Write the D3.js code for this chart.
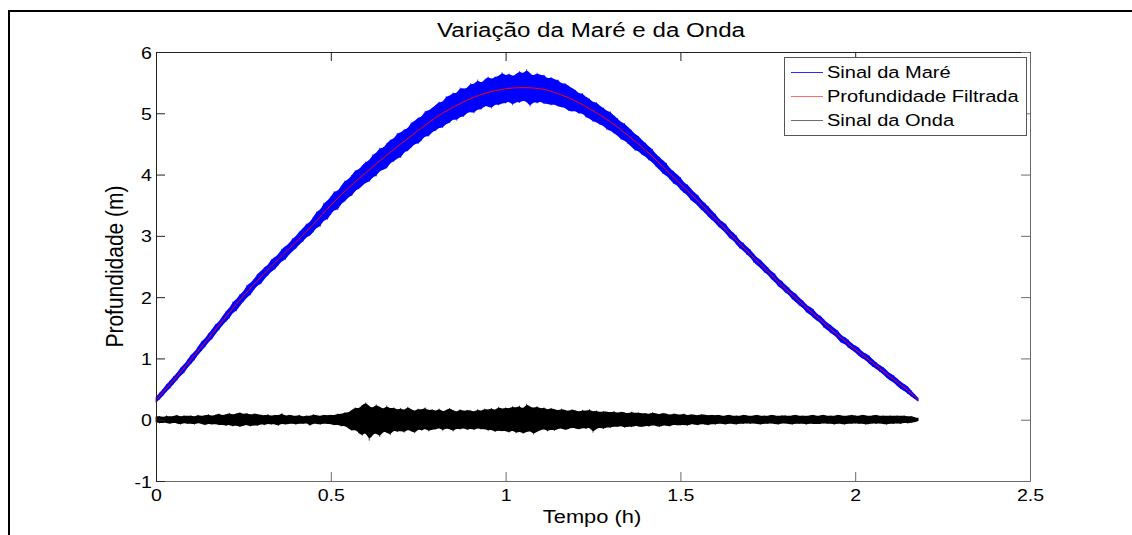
<!DOCTYPE html>
<html>
<head>
<meta charset="utf-8">
<script src="https://cdn.jsdelivr.net/npm/d3@7"></script>
<style>
  body { margin: 0; background: #fff; }
  svg { display: block; }
  text { font-family: "Liberation Sans", Arial, sans-serif; fill: #000; }
</style>
</head>
<body>
<svg id="chart" width="1132" height="535"></svg>
<script>
// ---- data -------------------------------------------------------------
// Records are summarised in bins of 0.01 h starting at t = 0 h:
// for each bin the highest and lowest sample of the signal (m).
const binStart = 0;      // h
const binWidth = 0.01;   // h

// Sinal da Maré (tide gauge pressure depth), bin maxima / minima
const tideHigh = [
  0.37,0.44,0.50,0.58,0.64,0.71,0.76,0.85,0.90,0.98,1.06,1.11,1.19,1.28,1.32,1.41,1.47,1.56,1.60,1.69,
  1.77,1.82,1.93,1.96,2.05,2.09,2.20,2.23,2.29,2.38,2.42,2.49,2.52,2.62,2.65,2.70,2.79,2.83,2.87,2.96,2.99,3.07,3.12,3.20,3.22,
  3.31,3.40,3.42,3.54,3.57,3.64,3.73,3.73,3.82,3.90,3.92,3.99,4.07,4.08,4.15,
  4.21,4.23,4.33,4.35,4.44,4.43,4.51,4.57,4.58,4.68,4.68,4.74,4.75,4.85,4.87,4.93,4.94,5.04,5.04,5.09,
  5.13,5.19,5.18,5.28,5.28,5.34,5.32,5.42,5.40,5.41,5.49,5.47,5.55,5.49,5.55,5.60,5.55,5.60,5.60,5.67,
  5.61,5.65,5.60,5.64,5.69,5.64,5.72,5.65,5.61,5.66,5.62,5.63,5.56,5.59,5.55,5.55,5.48,5.49,5.45,5.41,
  5.38,5.32,5.33,5.26,5.24,5.18,5.18,5.12,5.09,5.03,5.03,4.96,4.92,4.85,4.84,4.77,4.73,4.66,4.63,4.56,
  4.52,4.45,4.42,4.33,4.29,4.23,4.19,4.10,4.06,4.00,3.96,3.87,3.84,3.77,3.71,3.67,3.58,3.54,3.48,3.41,
  3.36,3.28,3.23,3.20,3.11,3.06,3.01,2.92,2.89,2.82,2.78,2.71,2.64,2.61,2.54,2.49,2.42,2.39,2.30,2.27,
  2.20,2.16,2.09,2.06,1.99,1.95,1.88,1.84,1.81,1.73,1.70,1.64,1.58,1.55,1.49,1.46,1.38,1.35,1.31,1.25,
  1.21,1.18,1.11,1.08,1.05,0.98,0.94,0.89,0.86,0.81,0.75,0.73,0.67,0.62,0.58,0.55,0.48,0.42,0.36
];
const tideLow = [
  0.28,0.33,0.39,0.46,0.51,0.58,0.64,0.72,0.76,0.85,0.91,0.97,1.06,1.12,1.18,1.27,1.31,1.40,1.46,1.54,
  1.60,1.65,1.75,1.77,1.86,1.92,2.00,2.03,2.12,2.19,2.21,2.30,2.35,2.42,2.45,2.52,2.59,2.61,2.69,2.75,2.79,2.86,2.90,2.98,3.00,
  3.06,3.14,3.15,3.26,3.26,3.35,3.43,3.42,3.53,3.56,3.63,3.65,3.74,3.76,3.82,
  3.87,3.88,3.96,3.97,4.06,4.08,4.10,4.19,4.21,4.27,4.27,4.37,4.38,4.44,4.50,4.50,4.56,4.63,4.62,4.70,
  4.71,4.77,4.76,4.83,4.84,4.91,4.88,4.95,4.94,5.01,5.02,5.00,5.07,5.06,5.12,5.11,5.08,5.15,5.13,5.17,
  5.16,5.20,5.13,5.19,5.17,5.21,5.19,5.11,5.19,5.16,5.20,5.15,5.16,5.13,5.15,5.11,5.10,5.09,5.04,5.03,
  5.04,4.99,5.00,4.93,4.92,4.86,4.86,4.81,4.80,4.73,4.72,4.67,4.64,4.57,4.56,4.50,4.46,4.39,4.39,4.32,
  4.30,4.23,4.20,4.13,4.08,4.01,3.98,3.92,3.85,3.83,3.75,3.70,3.66,3.58,3.54,3.49,3.42,3.38,3.31,3.26,
  3.21,3.14,3.10,3.04,2.96,2.93,2.86,2.79,2.76,2.69,2.65,2.56,2.52,2.47,2.40,2.37,2.29,2.25,2.17,2.14,
  2.07,2.04,1.96,1.92,1.86,1.83,1.75,1.72,1.66,1.62,1.58,1.50,1.47,1.41,1.38,1.32,1.25,1.24,1.17,1.14,
  1.10,1.04,1.00,0.97,0.91,0.86,0.83,0.78,0.74,0.68,0.64,0.61,0.55,0.50,0.47,0.42,0.38,0.34,0.30
];

// Sinal da Onda (wave signal after removing the tide), bin maxima / minima
const waveHigh = [
  .05,.06,.04,.07,.05,.06,.08,.05,.07,.06,  .07,.05,.08,.06,.07,.09,.06,.08,.10,.07,
  .09,.11,.08,.10,.12,.09,.11,.08,.10,.09,  .08,.07,.09,.06,.08,.07,.11,.06,.08,.07,
  .06,.08,.05,.07,.06,.09,.07,.06,.08,.07,  .08,.07,.10,.09,.12,.11,.16,.20,.18,.24,
  .28,.22,.19,.25,.21,.17,.23,.18,.20,.16,  .19,.15,.21,.17,.14,.18,.16,.20,.15,.17,
  .14,.18,.13,.16,.19,.15,.13,.17,.14,.16,  .15,.13,.17,.14,.18,.16,.19,.15,.21,.17,
  .20,.18,.22,.19,.23,.17,.26,.21,.19,.22,  .18,.20,.16,.19,.17,.15,.18,.16,.14,.17,
  .15,.13,.16,.14,.17,.13,.15,.12,.14,.13,  .12,.14,.11,.13,.12,.10,.13,.11,.12,.10,
  .11,.09,.12,.10,.09,.11,.10,.08,.10,.09,  .08,.10,.07,.09,.08,.07,.09,.08,.07,.08,
  .07,.08,.06,.07,.08,.06,.07,.06,.08,.07,  .06,.07,.08,.06,.07,.06,.08,.07,.06,.07,
  .07,.06,.07,.08,.06,.07,.06,.07,.08,.06,  .07,.08,.06,.07,.06,.08,.07,.06,.07,.08,
  .07,.06,.08,.07,.06,.07,.08,.06,.07,.06,  .07,.06,.07,.06,.07,.05,.06,.04,.03
];
const waveLow = [
  -.04,-.06,-.05,-.05,-.07,-.05,-.06,-.08,-.05,-.07,  -.06,-.08,-.05,-.07,-.09,-.06,-.08,-.07,-.09,-.08,
  -.10,-.08,-.11,-.09,-.12,-.10,-.08,-.11,-.09,-.10,  -.07,-.09,-.06,-.08,-.07,-.10,-.06,-.08,-.07,-.06,
  -.08,-.06,-.07,-.05,-.10,-.06,-.07,-.08,-.06,-.07,  -.07,-.09,-.08,-.11,-.10,-.14,-.18,-.16,-.22,-.26,
  -.20,-.34,-.24,-.22,-.28,-.19,-.21,-.25,-.17,-.20,  -.18,-.21,-.16,-.19,-.22,-.15,-.18,-.14,-.19,-.16,
  -.16,-.13,-.18,-.14,-.15,-.19,-.14,-.16,-.13,-.17,  -.14,-.17,-.13,-.16,-.15,-.18,-.16,-.20,-.17,-.19,
  -.18,-.21,-.17,-.22,-.19,-.23,-.20,-.18,-.24,-.19,  -.17,-.15,-.19,-.16,-.18,-.15,-.14,-.17,-.15,-.13,
  -.14,-.16,-.13,-.15,-.12,-.21,-.14,-.13,-.15,-.12,  -.13,-.11,-.12,-.10,-.13,-.11,-.12,-.10,-.11,-.12,
  -.10,-.11,-.09,-.10,-.12,-.09,-.10,-.11,-.08,-.09,  -.09,-.08,-.10,-.07,-.08,-.09,-.07,-.08,-.09,-.07,
  -.08,-.06,-.07,-.08,-.06,-.07,-.08,-.06,-.07,-.06,  -.07,-.06,-.07,-.08,-.06,-.07,-.06,-.07,-.08,-.06,
  -.06,-.07,-.08,-.06,-.07,-.06,-.08,-.06,-.07,-.07,  -.07,-.06,-.07,-.06,-.08,-.06,-.07,-.08,-.06,-.07,
  -.06,-.07,-.06,-.08,-.07,-.06,-.07,-.06,-.07,-.08,  -.06,-.07,-.06,-.07,-.05,-.06,-.05,-.04,-.02
];

// Profundidade Filtrada (low-pass filtered depth), m
const filterTime  = [0,0.05,0.10,0.15,0.20,0.25,0.30,0.35,0.40,0.45,0.50,0.55,0.60,0.65,0.70,0.75,0.80,0.85,0.90,0.95,
                     1.00,1.05,1.10,1.15,1.20,1.25,1.30,1.35,1.40,1.45,1.50,1.55,1.60,1.65,1.70,1.75,1.80,1.85,1.90,1.95,
                     2.00,2.05,2.10,2.15,2.18];
const filterDepth = [0.32,0.64,0.98,1.33,1.68,2.02,2.33,2.62,2.90,3.19,3.50,3.78,4.03,4.27,4.50,4.72,4.93,5.10,5.24,5.34,
                     5.40,5.42,5.40,5.32,5.20,5.04,4.86,4.64,4.40,4.13,3.85,3.57,3.28,2.99,2.70,2.42,2.14,1.88,1.63,1.38,
                     1.15,0.93,0.70,0.48,0.33];

const xTicks = [0, 0.5, 1, 1.5, 2, 2.5];
const yTicks = [-1, 0, 1, 2, 3, 4, 5, 6];
const seriesNames  = ["Sinal da Maré", "Profundidade Filtrada", "Sinal da Onda"];
const seriesColors = ["#0000ff", "#ff0000", "#000000"];
const spikeColors  = ["#4646ff", null, "#3c3c3c"];
const legendColors = ["#2b2bff", "#ff6b6b", "#6e6e6e"];

// ---- layout -----------------------------------------------------------
const plot = { left: 156, right: 1030, top: 52, bottom: 481 };
const stretch = 1.15; // horizontal widening of the lettering

const svg = d3.select("#chart");

const x = d3.scaleLinear().domain([0, 2.5]).range([plot.left, plot.right]);
const y = d3.scaleLinear().domain([-1, 6]).range([plot.bottom, plot.top]);

// figure frame
svg.append("path")
  .attr("d", "M9,535 V11 H1132")
  .attr("fill", "none").attr("stroke", "#000").attr("stroke-width", 2);

// ---- signals ----------------------------------------------------------
function binsOf(high, low) {
  return high.map((h, i) => ({ t: binStart + i * binWidth, hi: h, lo: low[i] }));
}
// dense record: one hairline per bin spanning the bin extremes, under a
// solid smoothed core running between the same extremes
function drawBand(bins, color, spike) {
  const g = svg.append("g");
  g.selectAll("line")
    .data(bins)
    .join("line")
    .attr("x1", d => x(d.t)).attr("x2", d => x(d.t))
    .attr("y1", d => y(d.hi)).attr("y2", d => y(d.lo))
    .attr("stroke", spike).attr("stroke-width", 1);
  g.append("path")
    .datum(bins)
    .attr("d", d3.area().x(d => x(d.t)).y0(d => y(d.lo)).y1(d => y(d.hi)).curve(d3.curveBasis))
    .attr("fill", color);
  return g;
}

drawBand(binsOf(tideHigh, tideLow), seriesColors[0], spikeColors[0]);

svg.append("path")
  .datum(filterTime.map((t, i) => [t, filterDepth[i]]))
  .attr("d", d3.line().x(d => x(d[0])).y(d => y(d[1])).curve(d3.curveMonotoneX))
  .attr("fill", "none").attr("stroke", seriesColors[1]).attr("stroke-width", 1);

drawBand(binsOf(waveHigh, waveLow), seriesColors[2], spikeColors[2]);

// ---- axes (box with inward ticks) -------------------------------------
const tickLen = 9;
const dark = "#222", light = "#6a6a6a";

function styleAxis(g, color) {
  g.attr("font-family", null);
  g.selectAll("path.domain").attr("stroke", color);
  g.selectAll(".tick line").attr("stroke", color);
}

const gBottom = svg.append("g")
  .attr("transform", `translate(0,${plot.bottom})`)
  .call(d3.axisBottom(x).tickValues(xTicks).tickSizeInner(-tickLen).tickSizeOuter(0)
        .tickFormat(d => String(d)));
styleAxis(gBottom, light);
gBottom.selectAll("text")
  .attr("y", 20).attr("dy", null)
  .attr("font-size", 17).attr("fill", "#000")
  .attr("transform", `scale(${stretch},1)`);

const gTop = svg.append("g")
  .attr("transform", `translate(0,${plot.top})`)
  .call(d3.axisTop(x).tickValues(xTicks).tickSizeInner(-tickLen).tickSizeOuter(0).tickFormat(() => ""));
styleAxis(gTop, dark);

const gLeft = svg.append("g")
  .attr("transform", `translate(${plot.left},0)`)
  .call(d3.axisLeft(y).tickValues(yTicks).tickSizeInner(-tickLen).tickSizeOuter(0)
        .tickFormat(d => String(d)));
styleAxis(gLeft, dark);
gLeft.selectAll("text")
  .attr("x", -3.5).attr("dy", "0.36em")
  .attr("font-size", 17).attr("fill", "#000")
  .attr("transform", `scale(${stretch},1)`);

const gRight = svg.append("g")
  .attr("transform", `translate(${plot.right},0)`)
  .call(d3.axisRight(y).tickValues(yTicks).tickSizeInner(-tickLen).tickSizeOuter(0).tickFormat(() => ""));
styleAxis(gRight, light);

// ---- titles -----------------------------------------------------------
const cx = (plot.left + plot.right) / 2;

svg.append("text")
  .attr("transform", `translate(${cx - 2},37) scale(${stretch},1)`)
  .attr("text-anchor", "middle").attr("font-size", 21)
  .text("Variação da Maré e da Onda");

svg.append("text")
  .attr("transform", `translate(${cx - 1},523) scale(${stretch},1)`)
  .attr("text-anchor", "middle").attr("font-size", 19)
  .text("Tempo (h)");

svg.append("text")
  .attr("transform", `translate(123,${(plot.top + plot.bottom) / 2}) rotate(-90) scale(1,${stretch})`)
  .attr("text-anchor", "middle").attr("font-size", 21)
  .text("Profundidade (m)");

// ---- legend -----------------------------------------------------------
const legend = svg.append("g").attr("transform", "translate(784,57)");
legend.append("rect")
  .attr("x", 0.5).attr("y", 0.5).attr("width", 242).attr("height", 78)
  .attr("fill", "#fff").attr("stroke", "#555");
const rowY = d3.scalePoint().domain(seriesNames).range([15, 63]);
seriesNames.forEach((name, i) => {
  const ry = rowY(name);
  legend.append("line")
    .attr("x1", 7).attr("x2", 39).attr("y1", ry + 0.5).attr("y2", ry + 0.5)
    .attr("stroke", legendColors[i]).attr("stroke-width", 1);
  legend.append("text")
    .attr("transform", `translate(43,${ry + 6}) scale(1.18,1)`)
    .attr("font-size", 17)
    .text(name);
});
</script>
</body>
</html>
